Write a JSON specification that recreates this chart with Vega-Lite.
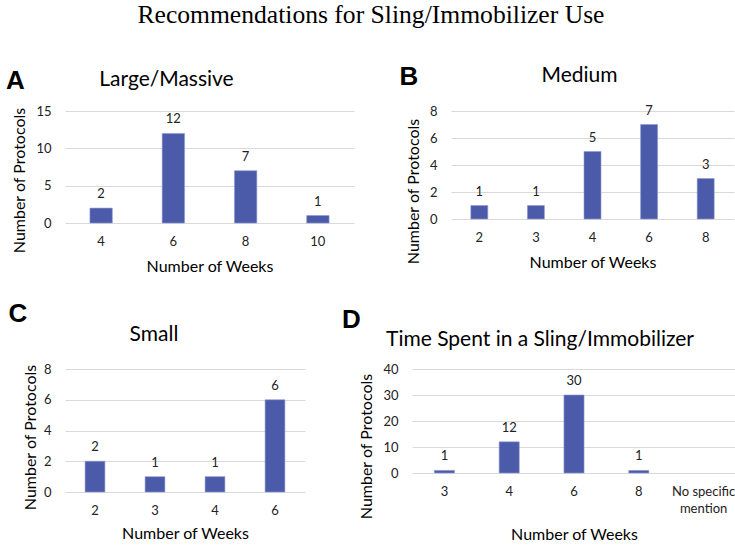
{
  "$schema": "https://vega.github.io/schema/vega-lite/v6.json",
  "padding": {"left": 5, "right": 5, "top": 2, "bottom": 0},
  "background": "white",
  "title": {"text": "Recommendations for Sling/Immobilizer Use", "font": "Liberation Serif", "fontSize": 25.6, "fontWeight": "normal", "color": "#000", "anchor": "middle", "offset": 35},
  "datasets": {
    "A": [{"weeks": "4", "count": 2}, {"weeks": "6", "count": 12}, {"weeks": "8", "count": 7}, {"weeks": "10", "count": 1}],
    "B": [{"weeks": "2", "count": 1}, {"weeks": "3", "count": 1}, {"weeks": "4", "count": 5}, {"weeks": "6", "count": 7}, {"weeks": "8", "count": 3}],
    "C": [{"weeks": "2", "count": 2}, {"weeks": "3", "count": 1}, {"weeks": "4", "count": 1}, {"weeks": "6", "count": 6}],
    "D": [{"weeks": "3", "count": 1}, {"weeks": "4", "count": 12}, {"weeks": "6", "count": 30}, {"weeks": "8", "count": 1}, {"weeks": "No specific mention", "count": null}]
  },
  "config": {
    "view": {"stroke": null},
    "font": "Lato",
    "axis": {"domain": false, "ticks": false, "tickSize": 0, "labelFont": "Lato", "labelFontSize": 13, "labelColor": "#222", "titleFont": "Lato", "titleFontSize": 16, "titleFontWeight": "normal", "titleColor": "#000", "gridColor": "#d9d9d9", "gridWidth": 1, "labelOverlap": false},
    "axisX": {"grid": false, "labelAngle": 0, "labelPadding": 12, "titlePadding": 10, "labelLineHeight": 17},
    "axisY": {"grid": true, "labelPadding": 14, "titlePadding": 8},
    "bar": {"color": "#4b5aa9", "stroke": "#8f9ad2", "strokeWidth": 0.6},
    "text": {"font": "Lato", "fontSize": 13, "color": "#222"}
  },
  "spacing": 27,
  "vconcat": [
    {
      "spacing": 45,
      "hconcat": [
        {
          "title": {"text": "A", "anchor": "start", "font": "Liberation Sans", "fontSize": 26, "fontWeight": "bold", "color": "#000", "offset": -25, "dx": -6},
          "vconcat": [{
            "title": {"text": "Large/Massive", "font": "Lato", "fontSize": 21, "fontWeight": "normal", "color": "#000", "anchor": "middle", "offset": 15, "dx": -43},
            "width": 289, "height": 112,
            "data": {"name": "A"},
            "encoding": {
              "x": {"field": "weeks", "type": "nominal", "sort": null, "scale": {"domain": ["4", "6", "8", "10"], "paddingInner": 0.69, "paddingOuter": 0.345}, "axis": {"title": "Number of Weeks"}},
              "y": {"field": "count", "type": "quantitative", "scale": {"domain": [0, 15], "nice": false}, "axis": {"values": [0, 5, 10, 15], "title": "Number of Protocols", "titleY": 69}}
            },
            "layer": [
              {"mark": "bar"},
              {"mark": {"type": "text", "baseline": "middle", "dy": -14}, "encoding": {"text": {"field": "count", "type": "quantitative"}}}
            ]
          }]
        },
        {
          "title": {"text": "B", "anchor": "start", "font": "Liberation Sans", "fontSize": 26, "fontWeight": "bold", "color": "#000", "offset": -25, "dx": -6},
          "vconcat": [{
            "title": {"text": "Medium", "font": "Lato", "fontSize": 21, "fontWeight": "normal", "color": "#000", "anchor": "middle", "offset": 19, "dx": -13},
            "width": 283, "height": 108,
            "data": {"name": "B"},
            "encoding": {
              "x": {"field": "weeks", "type": "nominal", "sort": null, "scale": {"domain": ["2", "3", "4", "6", "8"], "paddingInner": 0.7, "paddingOuter": 0.35}, "axis": {"title": "Number of Weeks"}},
              "y": {"field": "count", "type": "quantitative", "scale": {"domain": [0, 8], "nice": false}, "axis": {"values": [0, 2, 4, 6, 8], "title": "Number of Protocols", "titleY": 80}}
            },
            "layer": [
              {"mark": "bar"},
              {"mark": {"type": "text", "baseline": "middle", "dy": -14}, "encoding": {"text": {"field": "count", "type": "quantitative"}}}
            ]
          }]
        }
      ]
    },
    {
      "spacing": 36,
      "hconcat": [
        {
          "title": {"text": "C", "anchor": "start", "font": "Liberation Sans", "fontSize": 26, "fontWeight": "bold", "color": "#000", "offset": -3, "dx": -14},
          "vconcat": [{
            "title": {"text": "Small", "font": "Lato", "fontSize": 21, "fontWeight": "normal", "color": "#000", "anchor": "middle", "offset": 18, "dx": -31},
            "width": 240, "height": 123,
            "data": {"name": "C"},
            "encoding": {
              "x": {"field": "weeks", "type": "nominal", "sort": null, "scale": {"domain": ["2", "3", "4", "6"], "paddingInner": 0.67, "paddingOuter": 0.335}, "axis": {"title": "Number of Weeks", "titlePadding": 8}},
              "y": {"field": "count", "type": "quantitative", "scale": {"domain": [0, 8], "nice": false}, "axis": {"values": [0, 2, 4, 6, 8], "title": "Number of Protocols", "titleY": 68, "titlePadding": 5}}
            },
            "layer": [
              {"mark": "bar"},
              {"mark": {"type": "text", "baseline": "middle", "dy": -14}, "encoding": {"text": {"field": "count", "type": "quantitative"}}}
            ]
          }]
        },
        {
          "title": {"text": "D", "anchor": "start", "font": "Liberation Sans", "fontSize": 26, "fontWeight": "bold", "color": "#000", "offset": -4, "dx": -17},
          "vconcat": [{
            "title": {"text": "Time Spent in a Sling/Immobilizer", "font": "Lato", "fontSize": 21, "fontWeight": "normal", "color": "#000", "anchor": "middle", "offset": 13, "dx": -34},
            "width": 324, "height": 104,
            "data": {"name": "D"},
            "encoding": {
              "x": {"field": "weeks", "type": "nominal", "sort": null, "scale": {"domain": ["3", "4", "6", "8", "No specific mention"], "paddingInner": 0.69, "paddingOuter": 0.345}, "axis": {"title": "Number of Weeks", "titlePadding": 11, "labelExpr": "datum.label == 'No specific mention' ? ['No specific', 'mention'] : datum.label"}},
              "y": {"field": "count", "type": "quantitative", "scale": {"domain": [0, 40], "nice": false}, "axis": {"values": [0, 10, 20, 30, 40], "title": "Number of Protocols", "titleY": 77}}
            },
            "layer": [
              {"mark": "bar"},
              {"mark": {"type": "text", "baseline": "middle", "dy": -14}, "encoding": {"text": {"field": "count", "type": "quantitative"}}}
            ]
          }]
        }
      ]
    }
  ]
}
